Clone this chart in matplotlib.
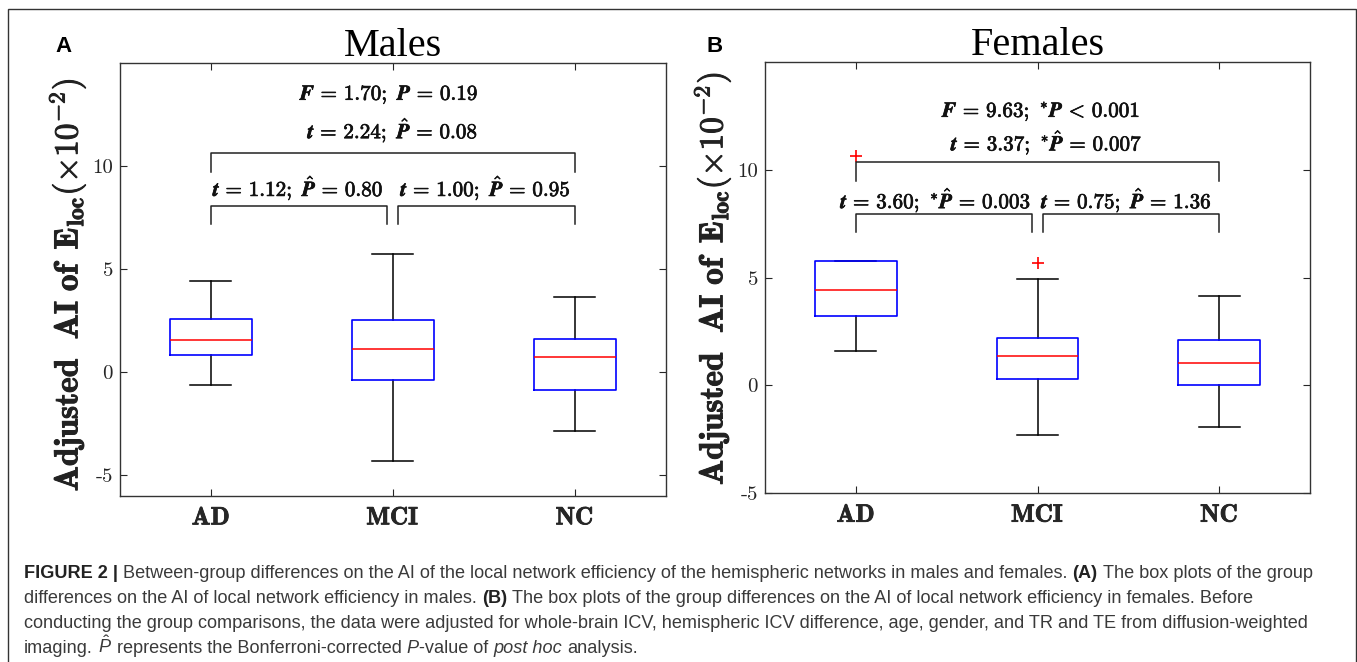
import matplotlib
matplotlib.use("Agg")
import numpy as np
import matplotlib.pyplot as plt
import matplotlib.patheffects as pe
from matplotlib.patches import Rectangle

plt.rcParams['mathtext.fontset'] = 'cm'
plt.rcParams['mathtext.rm'] = 'Liberation Sans'
plt.rcParams['mathtext.it'] = 'Liberation Sans:italic'
plt.rcParams['mathtext.bf'] = 'Liberation Sans:bold'
plt.rcParams['axes.unicode_minus'] = False

# data (x 10^-2)
groups = ['AD', 'MCI', 'NC']

male_whislo = [-0.62, -4.33, -2.86]
male_q1 = [0.84, -0.40, -0.89]
male_med = [1.54, 1.10, 0.73]
male_q3 = [2.56, 2.51, 1.62]
male_whishi = [4.43, 5.73, 3.63]
male_fliers = [[], [], []]

female_whislo = [1.61, -2.31, -1.95]
female_q1 = [3.22, 0.29, 0.01]
female_med = [4.43, 1.36, 1.05]
female_q3 = [5.75, 2.20, 2.12]
female_whishi = [5.75, 4.93, 4.14]
female_fliers = [[10.65], [5.67], []]

male_anova = r'$\mathbfit{F}\,=\,\mathbf{1.70};\ \mathbfit{P}\,=\,\mathbf{0.19}$'
male_posthoc = [r'$\mathbfit{t}\,=\,\mathbf{1.12};\ \hat{\mathbfit{P}}\,=\,\mathbf{0.80}$',
                r'$\mathbfit{t}\,=\,\mathbf{1.00};\ \hat{\mathbfit{P}}\,=\,\mathbf{0.95}$',
                r'$\mathbfit{t}\,=\,\mathbf{2.24};\ \hat{\mathbfit{P}}\,=\,\mathbf{0.08}$']
female_anova = r'$\mathbfit{F}\,=\,\mathbf{9.63};\ ^{*}\mathbfit{P}\,<\,\mathbf{0.001}$'
female_posthoc = [r'$\mathbfit{t}\,=\,\mathbf{3.60};\ ^{*}\hat{\mathbfit{P}}\,=\,\mathbf{0.003}$',
                  r'$\mathbfit{t}\,=\,\mathbf{0.75};\ \hat{\mathbfit{P}}\,=\,\mathbf{1.36}$',
                  r'$\mathbfit{t}\,=\,\mathbf{3.37};\ ^{*}\hat{\mathbfit{P}}\,=\,\mathbf{0.007}$']

ytick_vals = [-5, 0, 5, 10]
ytick_labels = ['-5', '0', '5', '10']

caption_lines = [
    [("FIGURE 2 |", 'bold', False),
     ("Between-group differences on the AI of the local network efficiency of the hemispheric networks in males and females.", 'normal', True),
     ("(A)", 'bold', True), ("The box plots of the group", 'normal', True)],
    [("differences on the AI of local network efficiency in males.", 'normal', False),
     ("(B)", 'bold', True),
     ("The box plots of the group differences on the AI of local network efficiency in females. Before", 'normal', True)],
    [("conducting the group comparisons, the data were adjusted for whole-brain ICV, hemispheric ICV difference, age, gender, and TR and TE from diffusion-weighted", 'normal', False)],
    [("imaging.", 'normal', False), (r"$\hat{P}$", 'math', True),
     ("represents the Bonferroni-corrected", 'normal', True), ("P", 'italic', True),
     ("-value of", 'normal', False), ("post hoc", 'italic', True), ("analysis.", 'normal', True)],
]

W, H = 1357, 662
fig = plt.figure(figsize=(W / 100, H / 100), dpi=100)
heavy = [pe.withStroke(linewidth=0.5, foreground='#111111')]


def draw_panel(rect, title, letter, letter_x, whislo, q1, med, q3, whishi, fliers,
               anova, posthoc, levels, text_x, text_y, ylim, label_y):
    ax = fig.add_axes(rect)
    pos = np.arange(1, len(groups) + 1)
    stats = []
    for i in range(len(groups)):
        stats.append(dict(med=med[i], q1=q1[i], q3=q3[i], whislo=whislo[i],
                          whishi=whishi[i], fliers=fliers[i]))
    ax.bxp(stats, positions=pos, widths=0.45, capwidths=0.225,
           boxprops=dict(color='#0000ff', lw=1.2, zorder=4),
           medianprops=dict(color='#ff0000', lw=1.1, zorder=5),
           whiskerprops=dict(color='black', lw=1.1),
           capprops=dict(color='black', lw=1.1),
           flierprops=dict(marker='+', markeredgecolor='#ff0000', markersize=8, mew=1.2))
    ax.set_xlim(0.5, 3.5)
    ax.set_ylim(*ylim)
    ax.set_yticks(ytick_vals)
    ax.set_yticklabels(ytick_labels, fontfamily='cmr10', fontsize=15)
    ax.set_xticks(pos)
    ax.set_xticklabels([r'$\mathbf{%s}$' % g for g in groups], fontsize=18)
    for lab in ax.get_xticklabels():
        lab.set_path_effects([pe.withStroke(linewidth=0.6, foreground='#222222')])
        lab.set_color('#222222')
    ax.tick_params(direction='in', top=True, right=True, length=5, width=0.8,
                   colors='#262626')
    ax.tick_params(axis='x', pad=7)
    ax.tick_params(axis='y', pad=5)
    for s in ax.spines.values():
        s.set_linewidth(1.0)
        s.set_color('#333333')
    yl = ax.set_ylabel(r'$\mathbf{Adjusted\ \ AI\ of\ \,E_{loc}}(\times\mathbf{10}^{-2})$',
                       fontsize=24, labelpad=2, color='#222222')
    yl.set_path_effects([pe.withStroke(linewidth=0.7, foreground='#222222')])
    yl.set_y(label_y)
    ax.set_title(title, fontfamily='Liberation Serif', fontsize=29, pad=5)
    # brackets
    lo, hi, top_lo, top_hi = levels
    gap = 0.03
    ax.plot([1, 1, 2 - gap, 2 - gap], [lo, hi, hi, lo], color='#222222', lw=1.1)
    ax.plot([2 + gap, 2 + gap, 3, 3], [lo, hi, hi, lo], color='#222222', lw=1.1)
    ax.plot([1, 1, 3, 3], [top_lo, top_hi, top_hi, top_lo], color='#222222', lw=1.1)
    labels = [posthoc[0], posthoc[1], posthoc[2], anova]
    for tx, ty, txt in zip(text_x, text_y, labels):
        ax.text(tx, ty, txt, ha='center', va='baseline', fontsize=15.2,
                math_fontfamily='cm', color='#111111', path_effects=heavy)
    fig.text(letter_x / W, 1 - 46 / H, letter, fontfamily='Liberation Sans',
             fontweight='bold', fontsize=16, ha='center', va='center')
    return ax


draw_panel([120 / W, 1 - 495.7 / H, 545.6 / W, 433 / H], 'Males', 'A', 63,
           male_whislo, male_q1, male_med, male_q3, male_whishi, male_fliers,
           male_anova, male_posthoc, (7.2, 8.07, 9.72, 10.6),
           (1.48, 2.51, 2.0, 1.98), (8.54, 8.54, 11.34, 13.2), (-6, 15), 0.487)
draw_panel([765 / W, 1 - 493 / H, 545 / W, 430.7 / H], 'Females', 'B', 715,
           female_whislo, female_q1, female_med, female_q3, female_whishi, female_fliers,
           female_anova, female_posthoc, (7.12, 7.95, 9.5, 10.35),
           (1.44, 2.49, 2.05, 2.02), (8.23, 8.23, 10.91, 12.47), (-5, 15), 0.498)

# outer frame
fig.patches.append(Rectangle((8 / W, -0.05), 1348 / W, 1.05 - 9 / H,
                             transform=fig.transFigure, fill=False,
                             edgecolor='#333333', lw=1.0))

# caption, drawn piece by piece
renderer = fig.canvas.get_renderer()
cap_size = 13.1
cap_color = '#3a3a3a'


def piece(x, y, txt, kind):
    kw = dict(fontfamily='Liberation Sans', fontsize=cap_size, color=cap_color,
              va='baseline', ha='left')
    if kind == 'bold':
        kw['fontweight'] = 'bold'
        kw['color'] = '#222222'
    elif kind == 'italic':
        kw['fontstyle'] = 'italic'
    elif kind == 'math':
        kw['math_fontfamily'] = 'custom'
    return fig.text(x, y, txt, **kw)


sp = piece(0, 0, 'x x', 'normal')
w2 = sp.get_window_extent(renderer).width
sp.remove()
sp = piece(0, 0, 'xx', 'normal')
space_w = w2 - sp.get_window_extent(renderer).width
sp.remove()

baselines = [578, 603, 628, 653]
for line, yb in zip(caption_lines, baselines):
    x = 24.0
    for txt, kind, space in line:
        if space:
            x += space_w
        t = piece(x / W, 1 - yb / H, txt, kind)
        x += t.get_window_extent(renderer).width

fig.savefig('out.png', dpi=100)
